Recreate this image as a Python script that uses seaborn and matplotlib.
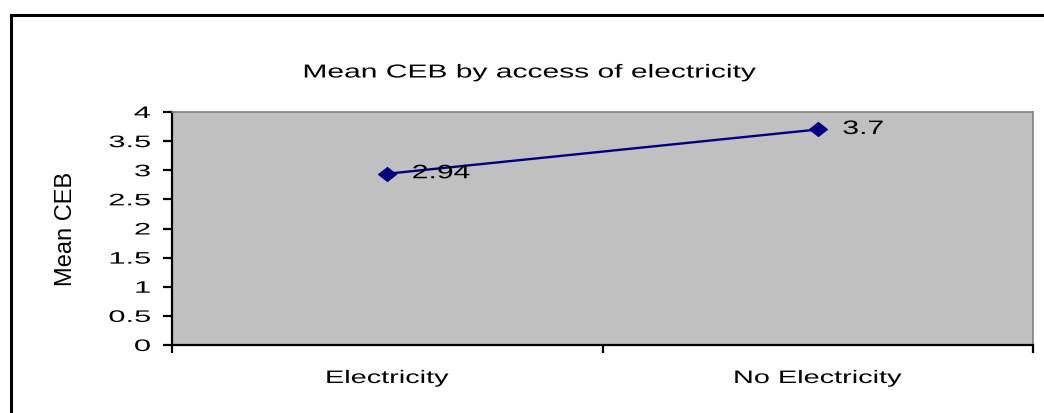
import matplotlib
matplotlib.use("Agg")
import matplotlib.pyplot as plt
import matplotlib.patheffects as pe
from matplotlib.patches import Rectangle
from matplotlib.path import Path
from matplotlib.transforms import Affine2D
import pandas as pd
import seaborn as sns

categories = ["Electricity", "No Electricity"]
mean_ceb = [2.94, 3.7]
y_ticks = [0, 0.5, 1, 1.5, 2, 2.5, 3, 3.5, 4]
y_tick_labels = ["0", "0.5", "1", "1.5", "2", "2.5", "3", "3.5", "4"]
title = "Mean CEB by access of electricity"
y_label = "Mean CEB"


class Stretch(pe.AbstractPathEffect):
    """Draw text glyphs widened along one local axis around an anchor."""

    def __init__(self, factor, anchor="center", axis="x"):
        super().__init__()
        self.factor = factor
        self.anchor = anchor
        self.axis = axis

    def draw_path(self, renderer, gc, tpath, affine, rgbFace=None):
        ext = tpath.get_extents()
        if self.axis == "x":
            ref = {"left": ext.x0, "right": ext.x1,
                   "center": 0.5 * (ext.x0 + ext.x1)}[self.anchor]
            st = Affine2D().translate(-ref, 0).scale(self.factor, 1).translate(ref, 0)
        else:
            ref = 0.5 * (ext.y0 + ext.y1)
            st = Affine2D().translate(0, -ref).scale(1, self.factor).translate(0, ref)
        renderer.draw_path(gc, tpath, st + affine, rgbFace)


SX = 1.6
NAVY = "#000080"

sns.set_theme(style="white")
plt.rcParams["font.family"] = ["Liberation Sans", "DejaVu Sans"]

fig = plt.figure(figsize=(10.44, 4.13), dpi=100)
fig.patch.set_facecolor("white")
ax = fig.add_axes([172 / 1044, 1 - 345 / 413, (1033 - 172) / 1044, (345 - 112) / 413])

df = pd.DataFrame({"access": categories, "mean_ceb": mean_ceb})
diamond = Path([(-1, 0), (0, 0.78), (1, 0), (0, -0.78), (-1, 0)],
               [Path.MOVETO, Path.LINETO, Path.LINETO, Path.LINETO, Path.CLOSEPOLY])
sns.lineplot(data=df, x="access", y="mean_ceb", ax=ax, color=NAVY, lw=1.7,
             marker=diamond, markersize=13, markerfacecolor=NAVY,
             markeredgecolor=NAVY, sort=False)

ax.set_facecolor("#C0C0C0")
ax.set_xlim(-0.5, 1.5)
ax.set_ylim(0, 4)
ax.set_xlabel("")
ax.set_ylabel("")

ax.set_xticks([0, 1])
ax.set_xticklabels(categories, fontsize=13, color="black")
ax.set_xticks([-0.5, 0.5, 1.5], minor=True)
ax.tick_params(axis="x", which="major", length=0, pad=18)
ax.tick_params(axis="x", which="minor", bottom=True, length=5.5, width=1.6,
               direction="out", color="black")

ax.set_yticks(y_ticks)
ax.set_yticklabels(y_tick_labels, fontsize=12, color="black")
ax.tick_params(axis="y", left=True, length=6.5, width=1.6, direction="out",
               color="black", pad=9)

for side in ("left", "bottom"):
    ax.spines[side].set_color("black")
    ax.spines[side].set_linewidth(1.6)
for side in ("top", "right"):
    ax.spines[side].set_color("#808080")
    ax.spines[side].set_linewidth(1.2)
    ax.spines[side].set_visible(True)

for lab in ax.get_xticklabels():
    lab.set_path_effects([Stretch(SX, "center")])
for lab in ax.get_yticklabels():
    lab.set_path_effects([Stretch(1.85, "right")])

for i, v in enumerate(mean_ceb):
    ax.annotate(f"{v:g}", xy=(i, v), xytext=(25, 0), textcoords="offset pixels",
                ha="left", va="center", fontsize=14, color="black",
                path_effects=[Stretch(1.55, "left")])

ax.set_ylabel(y_label, fontsize=17, color="black")
ax.yaxis.set_label_coords(-0.11, 0.5)

fig.text(0.507, 1 - 73 / 413, title, ha="center", va="center", fontsize=13.5,
         color="black", path_effects=[Stretch(SX, "center")])

fig.patches.append(Rectangle((10.5 / 1044, -0.5), 2.0, 1.5 - 14.5 / 413,
                             transform=fig.transFigure, fill=False,
                             edgecolor="black", linewidth=2.2))

fig.savefig("out.png", dpi=100, facecolor="white")
